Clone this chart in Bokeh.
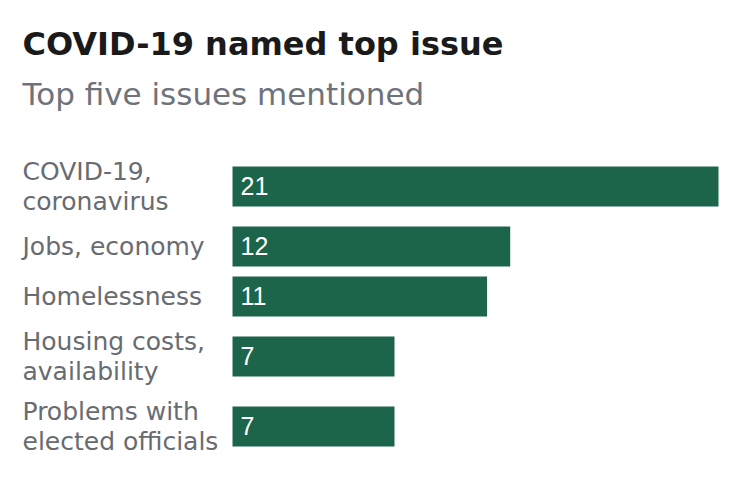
from bokeh.plotting import figure
from bokeh.models import Range1d, ColumnDataSource
from bokeh.core.properties import value
from bokeh.embed import file_html
from bokeh.resources import INLINE

title = "COVID-19 named top issue"
subtitle = "Top five issues mentioned"
issues = ["COVID-19,\ncoronavirus", "Jobs, economy", "Homelessness",
          "Housing costs,\navailability", "Problems with\nelected officials"]
values = [21, 12, 11, 7, 7]
value_labels = [str(v) for v in values]

W, H = 740, 486
bar_left, bar_right = 232, 718          # pixels of bar area
scale = (bar_right - bar_left) / max(values)
label_left = 22
bar_h = 40
line_h = 30
gap = 10
first_top = 156

# vertical layout from number of label lines
centers = []
top = first_top
for lab in issues:
    n = lab.count("\n") + 1
    h = max(bar_h, line_h * n)
    centers.append(top + h / 2)
    top += h + gap

to_x = lambda px: (px - bar_left) / scale

p = figure(width=W, height=H, output_backend="svg", toolbar_location=None,
           x_range=Range1d(to_x(0), to_x(W)), y_range=Range1d(H, 0),
           min_border=0, outline_line_color=None)
p.axis.visible = False
p.grid.visible = False

src = ColumnDataSource(dict(issue=issues, val=values, lab=value_labels, y=centers,
                            lx=[to_x(label_left)] * len(issues), zero=[0] * len(issues)))

p.hbar(y="y", left="zero", right="val", height=bar_h, source=src,
       fill_color="#1c654b", line_color=None)
p.text(x="zero", y="y", text="lab", source=src, x_offset=8, y_offset=-1,
       text_baseline="middle", text_align="left", text_color="white",
       text_font=value("Liberation Sans"), text_font_size="25px")
p.text(x="lx", y="y", text="issue", source=src, y_offset=0,
       text_baseline="middle", text_align="left", text_color="#686b70",
       text_font=value("DejaVu Sans"), text_font_size="25px", text_line_height=1.05)

p.text(x=[to_x(label_left)], y=[43], text=[title], text_baseline="alphabetic",
       text_font=value("DejaVu Sans"), text_font_style="bold", text_font_size="32px",
       text_color="#1a1a1a")
p.text(x=[to_x(label_left)], y=[93], text=[subtitle], text_baseline="alphabetic",
       text_font=value("DejaVu Sans"), text_font_size="31px", text_color="#6e737b")

open("out.html", "w").write(file_html(p, INLINE))
